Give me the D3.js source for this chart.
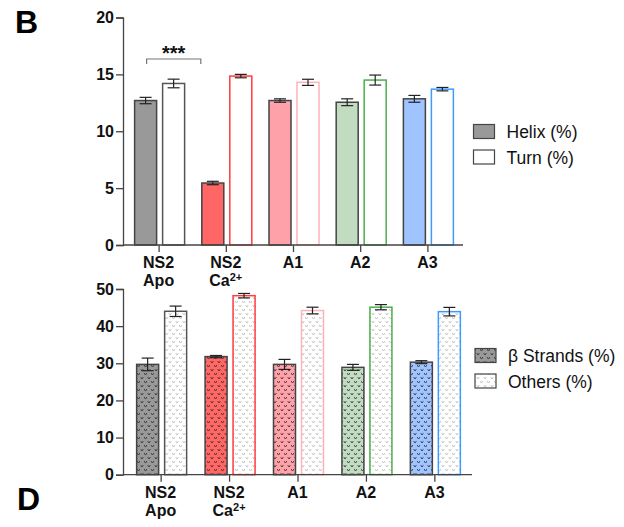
<!DOCTYPE html>
<html>
<head>
<meta charset="utf-8">
<script src="https://cdn.jsdelivr.net/npm/d3@7"></script>
<style>
  body { margin: 0; background: #fff; }
  svg { font-family: "Liberation Sans", Arial, sans-serif; }
</style>
</head>
<body>
<svg id="chart" width="624" height="527"></svg>
<script>
// groups (x categories)
const groups = ['NS2 Apo', 'NS2 Ca', 'A1', 'A2', 'A3'];
const fillColors = ['#999999', '#ff6666', '#ffa1a8', '#c2dcc2', '#9fc4ff'];
const strokeColors = ['#555555', '#ff3b3b', '#ffb3b8', '#4cae4c', '#3d9bff'];

// panel B
const helix = [12.7, 5.45, 12.7, 12.55, 12.85];
const helixErr = [0.28, 0.15, 0.15, 0.3, 0.3];
const turn = [14.2, 14.85, 14.3, 14.5, 13.7];
const turnErr = [0.38, 0.15, 0.27, 0.44, 0.15];
const topTicks = [0, 5, 10, 15, 20];

// panel D
const strands = [29.7, 31.8, 29.7, 28.9, 30.3];
const strandsErr = [1.7, 0.3, 1.35, 0.8, 0.4];
const others = [44.0, 48.2, 44.2, 45.1, 43.9];
const othersErr = [1.4, 0.6, 0.9, 0.7, 1.15];
const bottomTicks = [0, 10, 20, 30, 40, 50];

const svg = d3.select('#chart');
const defs = svg.append('defs');

// dotted "v" patterns
function makePattern(id, bg, mark) {
  const p = defs.append('pattern')
    .attr('id', id)
    .attr('patternUnits', 'userSpaceOnUse')
    .attr('width', 7).attr('height', 8);
  p.append('rect').attr('width', 7).attr('height', 8).attr('fill', bg);
  const v = 'M0,0 h1 v1 h1 v-1 h1 v1 h-0.5 v1 h-2 v-1 h-0.5 z';
  p.append('path').attr('d', v).attr('transform', 'translate(0.5,1)').attr('fill', mark);
  p.append('path').attr('d', v).attr('transform', 'translate(4,5)').attr('fill', mark);
}
fillColors.forEach((c, i) => makePattern('pf' + i, c, 'rgba(40,40,40,0.7)'));
makePattern('pw', '#ffffff', 'rgba(150,150,150,0.5)');

function panel(opts) {
  const g = svg.append('g');
  const x = d3.scalePoint().domain(groups).range([123, opts.xEnd]).padding(opts.pad);
  const y = d3.scaleLinear().domain([0, opts.max]).range([opts.y0, opts.y1]);
  const bw = 22, gap = 6;

  // bars
  groups.forEach((gname, i) => {
    const cx = x(gname);
    const bars = [
      { v: opts.a[i], e: opts.aErr[i], x0: cx - gap / 2 - bw + 1, fill: opts.patterned ? `url(#pf${i})` : fillColors[i], stroke: '#444' },
      { v: opts.b[i], e: opts.bErr[i], x0: cx + gap / 2 + 1, fill: opts.patterned ? 'url(#pw)' : '#fff', stroke: strokeColors[i] }
    ];
    bars.forEach(b => {
      g.append('rect')
        .attr('x', b.x0).attr('y', y(b.v))
        .attr('width', bw).attr('height', y(0) - y(b.v))
        .attr('fill', b.fill).attr('stroke', b.stroke).attr('stroke-width', 1.5);
      const mx = b.x0 + bw / 2;
      const eb = g.append('g').attr('stroke', '#222').attr('stroke-width', 1.2);
      eb.append('line').attr('x1', mx).attr('x2', mx).attr('y1', y(b.v + b.e)).attr('y2', y(b.v - b.e));
      [b.v + b.e, b.v - b.e].forEach(val => {
        eb.append('line').attr('x1', mx - 6).attr('x2', mx + 6).attr('y1', y(val)).attr('y2', y(val));
      });
    });
  });

  // y axis
  const ya = g.append('g').attr('transform', 'translate(123,0)')
    .call(d3.axisLeft(y).tickValues(opts.ticks).tickSize(7).tickPadding(2));
  ya.selectAll('text').attr('font-size', 16).attr('font-weight', 'bold').attr('fill', '#111')
    .attr('font-family', '"Liberation Sans", Arial, sans-serif');
  ya.selectAll('line, path').attr('stroke', '#444').attr('stroke-width', 1.3);

  // x axis
  const xa = g.append('g').attr('transform', `translate(0,${opts.y0})`)
    .call(d3.axisBottom(x).tickSize(7).tickFormat(''));
  xa.select('.domain').attr('d', `M123,0H${opts.xEnd}`);
  xa.selectAll('line, path').attr('stroke', '#444').attr('stroke-width', 1.3);

  // x labels
  groups.forEach(gname => {
    const t = g.append('text').attr('x', x(gname)).attr('text-anchor', 'middle')
      .attr('font-size', 16).attr('font-weight', 'bold').attr('fill', '#111');
    if (gname.startsWith('NS2')) {
      t.append('tspan').attr('x', x(gname)).attr('y', opts.y0 + 23).text('NS2');
      const t2 = t.append('tspan').attr('x', x(gname)).attr('y', opts.y0 + 41);
      if (gname === 'NS2 Apo') t2.text('Apo');
      else {
        t2.text('Ca');
        t.append('tspan').attr('font-size', 11).attr('dy', -5).text('2+');
      }
    } else {
      t.attr('y', opts.y0 + 23).text(gname);
    }
  });

  // legend
  opts.legend.forEach((lab, i) => {
    const ly = opts.legY + i * 25.5;
    g.append('rect').attr('x', opts.legX).attr('y', ly).attr('width', 21).attr('height', 14)
      .attr('fill', i === 0 ? (opts.patterned ? 'url(#pf0)' : fillColors[0]) : (opts.patterned ? 'url(#pw)' : '#fff'))
      .attr('stroke', '#444').attr('stroke-width', 1.2);
    g.append('text').attr('x', opts.legX + 33).attr('y', ly + 13.5)
      .attr('font-size', 17.5).attr('fill', '#111').text(lab);
  });
  return { x, y, g };
}

const topPanel = panel({
  xEnd: 463, pad: 0.53, max: 20, y0: 245, y1: 17.5,
  a: helix, aErr: helixErr, b: turn, bErr: turnErr, ticks: topTicks,
  patterned: false, legend: ['Helix (%)', 'Turn (%)'], legX: 473.5, legY: 124.5
});

const bottomPanel = panel({
  xEnd: 472, pad: 0.55, max: 50, y0: 474.7, y1: 289,
  a: strands, aErr: strandsErr, b: others, bErr: othersErr, ticks: bottomTicks,
  patterned: true, legend: ['\u03b2 Strands (%)', 'Others (%)'], legX: 475, legY: 348.5
});

// significance bracket
const bx1 = topPanel.x('NS2 Apo') - 12, bx2 = topPanel.x('NS2 Ca') - 25;
const by = 59;
topPanel.g.append('path')
  .attr('d', `M${bx1},${by + 5}V${by}H${bx2}V${by + 5}`)
  .attr('fill', 'none').attr('stroke', '#777').attr('stroke-width', 1.2);
topPanel.g.append('text').attr('x', (bx1 + bx2) / 2).attr('y', by + 1)
  .attr('text-anchor', 'middle').attr('font-size', 20).attr('font-weight', 'bold').attr('fill', '#111').text('***');

// panel letters
svg.append('text').attr('x', 15).attr('y', 33).attr('font-size', 32).attr('font-weight', 'bold').attr('fill', '#000').text('B');
svg.append('text').attr('x', 17).attr('y', 510).attr('font-size', 32).attr('font-weight', 'bold').attr('fill', '#000').text('D');
</script>
</body>
</html>
